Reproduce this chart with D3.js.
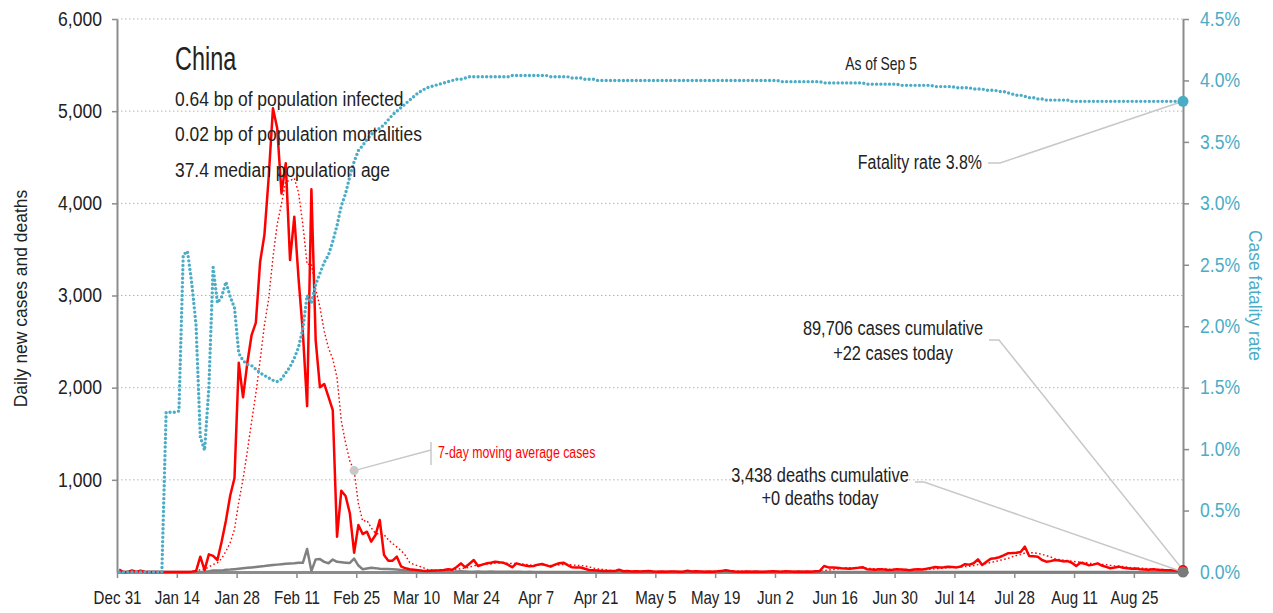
<!DOCTYPE html>
<html>
<head>
<meta charset="utf-8">
<script src="https://cdn.jsdelivr.net/npm/d3@7"></script>
<style>
  body { margin: 0; background: #fff; }
  svg text { font-family: "Liberation Sans", Arial, sans-serif; }
</style>
</head>
<body>
<svg id="chart"></svg>
<script>
// daily values, Dec 31 2019 .. Sep 5 2020
const firstDay = new Date(2019, 11, 31);

const cases = [
  27,0,0,17,0,15,0,0,0,0,
  0,0,0,0,0,0,0,4,10,166,
  20,192,175,130,330,560,830,1020,2270,1895,
  2267,2571,2705,3366,3656,4280,5031,4814,4108,4434,
  3385,3855,3180,2600,1800,4152,2517,2004,2040,1900,
  1757,383,882,825,637,209,510,412,437,329,
  401,564,184,123,123,166,60,40,30,25,
  20,14,12,14,16,18,22,30,25,55,
  94,51,90,130,65,80,94,100,112,105,
  100,80,51,94,80,70,62,65,80,87,
  72,58,80,95,101,75,51,50,48,35,
  22,18,15,12,10,12,10,25,8,10,
  6,8,5,7,10,6,4,5,3,6,
  5,4,2,14,6,8,5,3,6,4,
  7,12,18,10,5,3,4,5,2,6,
  4,3,5,8,6,4,7,5,3,6,
  4,5,3,8,12,65,50,48,45,40,
  38,35,40,45,52,30,28,25,30,28,
  22,25,30,27,24,20,26,30,28,35,
  45,55,50,52,58,55,50,60,85,80,
  95,137,76,110,145,150,160,180,203,205,
  210,217,275,174,170,166,130,112,118,130,
  125,115,119,100,65,101,90,72,80,94,
  70,55,40,48,58,45,40,36,38,30,
  28,25,30,24,22,18,20,15,12,22
];

const casesAvg = [
  4,4,4,6,6,8,8,5,5,5,
  2,2,0,0,0,0,0,1,2,26,
  29,56,81,100,146,225,320,462,759,1005,
  1310,1630,1937,2299,2676,2963,3411,3775,3994,4241,
  4244,4272,4115,3768,3337,3344,3070,2873,2613,2430,
  2310,2108,1640,1399,1203,1100,743,551,559,480,
  419,409,405,350,309,270,232,180,104,81,
  66,51,29,22,19,17,17,18,20,26,
  37,42,52,68,73,81,86,87,96,98,
  94,96,92,92,89,83,77,72,72,77,
  74,71,72,77,82,81,76,73,71,65,
  55,43,34,29,23,18,14,15,13,12,
  12,11,10,10,8,7,7,6,6,6,
  6,5,4,6,6,6,6,6,6,7,
  6,6,8,9,9,8,8,8,7,5,
  4,4,4,5,5,5,5,5,5,6,
  5,5,5,5,6,15,21,27,33,38,
  43,46,42,42,42,40,38,36,36,34,
  31,27,27,27,27,25,25,26,26,27,
  30,34,38,42,46,50,52,54,59,63,
  69,80,83,92,104,113,125,137,146,165,
  179,189,207,209,208,202,192,178,164,143,
  136,128,121,117,110,108,102,95,90,86,
  82,80,72,66,64,59,51,46,44,42,
  39,35,32,30,28,25,24,22,20,19
];

const deaths = [
  0,0,0,0,0,0,0,0,0,0,
  0,1,0,0,0,0,0,1,0,1,
  3,8,16,15,15,25,26,30,35,40,
  45,50,55,60,64,70,75,80,85,90,
  92,95,100,100,250,10,137,140,110,95,
  135,110,105,101,98,145,70,30,38,45,
  42,35,33,32,30,28,22,17,14,11,
  10,8,7,10,8,6,5,6,4,5,
  7,6,4,3,5,4,3,5,4,3,
  2,3,2,3,2,1,2,1,1,0,
  1,0,1,0,0,1,0,0,1,0,
  0,1,0,0,0,0,1,0,0,0,
  0,0,0,0,0,0,0,0,0,0,
  0,0,1,0,0,0,0,0,0,0,
  0,0,0,0,0,0,0,0,0,0,
  0,0,0,0,0,0,0,0,0,0,
  0,0,0,0,0,0,0,0,0,0,
  0,0,0,0,0,0,0,0,0,0,
  0,0,0,0,0,0,0,0,0,0,
  0,0,0,0,0,0,0,0,0,0,
  0,0,0,0,0,0,0,0,0,0,
  0,0,0,0,0,0,0,0,0,0,
  0,0,0,0,0,0,0,0,0,0,
  0,0,0,0,0,0,0,0,0,0,
  0,0,0,0,0,0,0,0,0,0
];

// case fatality rate, percent
const fatality = [
  0,0,0,0,0,0,0,0,0,0,
  0,1.30,1.30,1.30,1.31,2.58,2.61,2.35,2.01,1.10,
  0.99,1.50,2.48,2.19,2.24,2.36,2.24,2.15,1.78,1.72,
  1.69,1.68,1.65,1.62,1.60,1.58,1.56,1.55,1.57,1.62,
  1.67,1.74,1.83,1.98,2.25,2.19,2.34,2.43,2.52,2.58,
  2.69,2.82,2.98,3.08,3.22,3.34,3.43,3.47,3.52,3.56,
  3.59,3.61,3.64,3.68,3.72,3.75,3.78,3.81,3.84,3.87,
  3.90,3.92,3.94,3.95,3.96,3.97,3.98,3.99,4.00,4.01,
  4.01,4.02,4.03,4.03,4.03,4.03,4.03,4.03,4.03,4.03,
  4.03,4.03,4.04,4.04,4.04,4.04,4.04,4.04,4.04,4.04,
  4.04,4.03,4.03,4.03,4.03,4.03,4.02,4.02,4.02,4.01,
  4.01,4.01,4.00,4.00,4.00,4.00,4.00,4.00,4.00,4.00,
  4.00,4.00,4.00,4.00,4.00,4.00,4.00,4.00,4.00,4.00,
  4.00,4.00,4.00,4.00,4.00,4.00,4.00,4.00,4.00,4.00,
  4.00,4.00,4.00,4.00,4.00,4.00,4.00,4.00,4.00,4.00,
  4.00,4.00,4.00,4.00,4.00,3.99,3.99,3.99,3.99,3.99,
  3.99,3.99,3.99,3.99,3.99,3.98,3.98,3.98,3.98,3.98,
  3.98,3.98,3.98,3.98,3.98,3.97,3.97,3.97,3.97,3.97,
  3.97,3.97,3.97,3.96,3.96,3.96,3.96,3.96,3.96,3.96,
  3.96,3.95,3.95,3.95,3.95,3.95,3.94,3.94,3.94,3.94,
  3.93,3.93,3.93,3.92,3.92,3.92,3.91,3.91,3.90,3.89,
  3.88,3.88,3.87,3.86,3.86,3.85,3.85,3.84,3.84,3.84,
  3.84,3.84,3.84,3.83,3.83,3.83,3.83,3.83,3.83,3.83,
  3.83,3.83,3.83,3.83,3.83,3.83,3.83,3.83,3.83,3.83,
  3.83,3.83,3.83,3.83,3.83,3.83,3.83,3.83,3.83,3.83
];

const countTicks = [1000, 2000, 3000, 4000, 5000, 6000];
const rateTicks = [0, 0.5, 1, 1.5, 2, 2.5, 3, 3.5, 4, 4.5];
const dateTickStep = 14;

const infoLines = [
  "0.64 bp of population infected",
  "0.02 bp of population mortalities",
  "37.4 median population age"
];

const width = 1273;
const height = 613;
const margin = { top: 19, right: 90, bottom: 41, left: 117 };

const red = "#ff0000";
const blue = "#4bacc6";
const grey = "#808080";
const ink = "#222";

const svg = d3.select("#chart")
    .attr("width", width)
    .attr("height", height);

// no condensed face is installed, so text is narrowed horizontally
function squeeze(sel, k) {
    sel.each(function () {
        const t = d3.select(this);
        const tx = +t.attr("x") || 0, ty = +t.attr("y") || 0;
        const tr = t.attr("transform") || "";
        t.attr("transform", `${tr} translate(${tx},${ty}) scale(${k},1)`.trim())
            .attr("x", null)
            .attr("y", null);
    });
}

const days = cases.map((_, i) => d3.timeDay.offset(firstDay, i));
// values are reported for the middle of each day
const mid = d => d3.timeHour.offset(d, 12);

const x = d3.scaleTime()
    .domain([days[0], mid(days[days.length - 1])])
    .range([margin.left, width - margin.right]);

const y = d3.scaleLinear()
    .domain([0, 6000])
    .range([height - margin.bottom, margin.top]);

const yRate = d3.scaleLinear()
    .domain([0, 4.5])
    .range([height - margin.bottom, margin.top]);

const x0 = margin.left, x1 = width - margin.right;
const yBase = height - margin.bottom;

// gridlines
svg.append("g")
    .selectAll("line")
    .data(countTicks)
    .enter()
    .append("line")
    .attr("x1", x0)
    .attr("x2", x1)
    .attr("y1", d => y(d))
    .attr("y2", d => y(d))
    .attr("stroke", "#b5b5b5")
    .attr("stroke-width", 1)
    .attr("stroke-dasharray", "1.5,2.5");

// axes
const leftAxis = svg.append("g")
    .attr("transform", `translate(${x0},0)`)
    .call(d3.axisLeft(y).tickValues(countTicks).tickFormat(d3.format(",")).tickSize(5).tickSizeOuter(0).tickPadding(10));

const rightAxis = svg.append("g")
    .attr("transform", `translate(${x1},0)`)
    .call(d3.axisRight(yRate).tickValues(rateTicks).tickFormat(d => d.toFixed(1) + "%").tickSize(6).tickSizeOuter(0).tickPadding(11));

const tickDays = days.filter((d, i) => i % dateTickStep === 0);
const bottomAxis = svg.append("g")
    .attr("transform", `translate(0,${yBase})`)
    .call(d3.axisBottom(x).tickValues(tickDays).tickFormat(d3.timeFormat("%b %-d")).tickSize(6).tickSizeOuter(0).tickPadding(13));

[leftAxis, rightAxis, bottomAxis].forEach(a => {
    a.select(".domain").attr("stroke", "#8c8c8c").attr("stroke-width", 2);
    a.selectAll(".tick line").attr("stroke", "#8c8c8c").attr("stroke-width", 1.5);
    a.selectAll(".tick text").attr("font-size", 19.5).attr("fill", ink);
});
bottomAxis.select(".domain").attr("stroke-width", 3);
bottomAxis.selectAll(".tick text").attr("font-size", 18);
rightAxis.selectAll(".tick text").attr("fill", blue);
squeeze(leftAxis.selectAll(".tick text"), 0.9);
squeeze(rightAxis.selectAll(".tick text"), 0.9);
squeeze(bottomAxis.selectAll(".tick text"), 0.84);

// axis titles
const yTitle = svg.append("text")
    .attr("transform", `translate(27,${(margin.top + yBase) / 2 + 3}) rotate(-90)`)
    .attr("text-anchor", "middle")
    .attr("font-size", 19)
    .attr("fill", ink)
    .text("Daily new cases and deaths");
squeeze(yTitle, 0.92);

const rTitle = svg.append("text")
    .attr("transform", `translate(1249,${(margin.top + yBase) / 2}) rotate(90)`)
    .attr("text-anchor", "middle")
    .attr("font-size", 19)
    .attr("fill", blue)
    .text("Case fatality rate");
squeeze(rTitle, 0.92);

// series
const lineOf = (values, scale) => d3.line()
    .x((d, i) => x(mid(days[i])))
    .y(d => scale(d))(values);

svg.append("path")
    .attr("d", lineOf(casesAvg, y))
    .attr("fill", "none")
    .attr("stroke", red)
    .attr("stroke-width", 1.4)
    .attr("stroke-dasharray", "1.6,2.4");

svg.append("path")
    .attr("d", lineOf(deaths, y))
    .attr("fill", "none")
    .attr("stroke", grey)
    .attr("stroke-width", 2.5)
    .attr("stroke-linejoin", "round");

svg.append("path")
    .attr("d", lineOf(cases, y))
    .attr("fill", "none")
    .attr("stroke", red)
    .attr("stroke-width", 2.5)
    .attr("stroke-linejoin", "round");

svg.append("path")
    .attr("d", lineOf(fatality, yRate))
    .attr("fill", "none")
    .attr("stroke", blue)
    .attr("stroke-width", 3.4)
    .attr("stroke-linecap", "round")
    .attr("stroke-dasharray", "0,4.3");

// end markers and annotations
const last = days.length - 1;
const lastX = x(mid(days[last]));

const note = (pts) => svg.append("polyline")
    .attr("points", pts.map(p => p.join(",")).join(" "))
    .attr("fill", "none")
    .attr("stroke", "#c8c8c8")
    .attr("stroke-width", 1.5);

note([[989, 340], [999, 340], [lastX, y(cases[last])]]);
note([[915, 482], [924, 482], [lastX, y(deaths[last])]]);
note([[988, 163], [1000, 163], [lastX, yRate(fatality[last])]]);

svg.append("circle").attr("cx", lastX).attr("cy", y(cases[last])).attr("r", 5).attr("fill", red);
svg.append("circle").attr("cx", lastX).attr("cy", y(deaths[last])).attr("r", 5.5).attr("fill", "#7a7a7a");
svg.append("circle").attr("cx", lastX).attr("cy", yRate(fatality[last])).attr("r", 5.5).attr("fill", blue);

const label = (tx, ty, str, anchor, size, k, color) => {
    const t = svg.append("text")
        .attr("x", tx)
        .attr("y", ty)
        .attr("text-anchor", anchor)
        .attr("font-size", size)
        .attr("fill", color || ink)
        .text(str);
    squeeze(t, k);
    return t;
};

label(893, 335, d3.format(",")(89706) + " cases cumulative", "middle", 21, 0.78);
label(893, 360, "+" + cases[last] + " cases today", "middle", 21, 0.78);
label(820, 482, d3.format(",")(3438) + " deaths cumulative", "middle", 21, 0.78);
label(820, 505, "+" + deaths[last] + " deaths today", "middle", 21, 0.78);
label(982, 169, "Fatality rate " + fatality[last].toFixed(1) + "%", "end", 21, 0.76);
label(881, 70, "As of Sep 5", "middle", 18.5, 0.75);

// moving average callout
const avgIdx = 55;
const avgPt = [x(mid(days[avgIdx])), y(casesAvg[avgIdx])];
note([avgPt, [431, 450]]);
svg.append("line")
    .attr("x1", 431).attr("x2", 431)
    .attr("y1", 442).attr("y2", 465)
    .attr("stroke", "#c8c8c8")
    .attr("stroke-width", 1.5);
svg.append("circle").attr("cx", avgPt[0]).attr("cy", avgPt[1]).attr("r", 4.5).attr("fill", "#c8c8c8");
label(438, 458, "7-day moving average cases", "start", 16, 0.77, red);

// country block
label(175, 70, "China", "start", 33, 0.71);
infoLines.forEach((t, i) => label(175, 106 + i * 35.3, t, "start", 21, 0.83));
</script>
</body>
</html>
